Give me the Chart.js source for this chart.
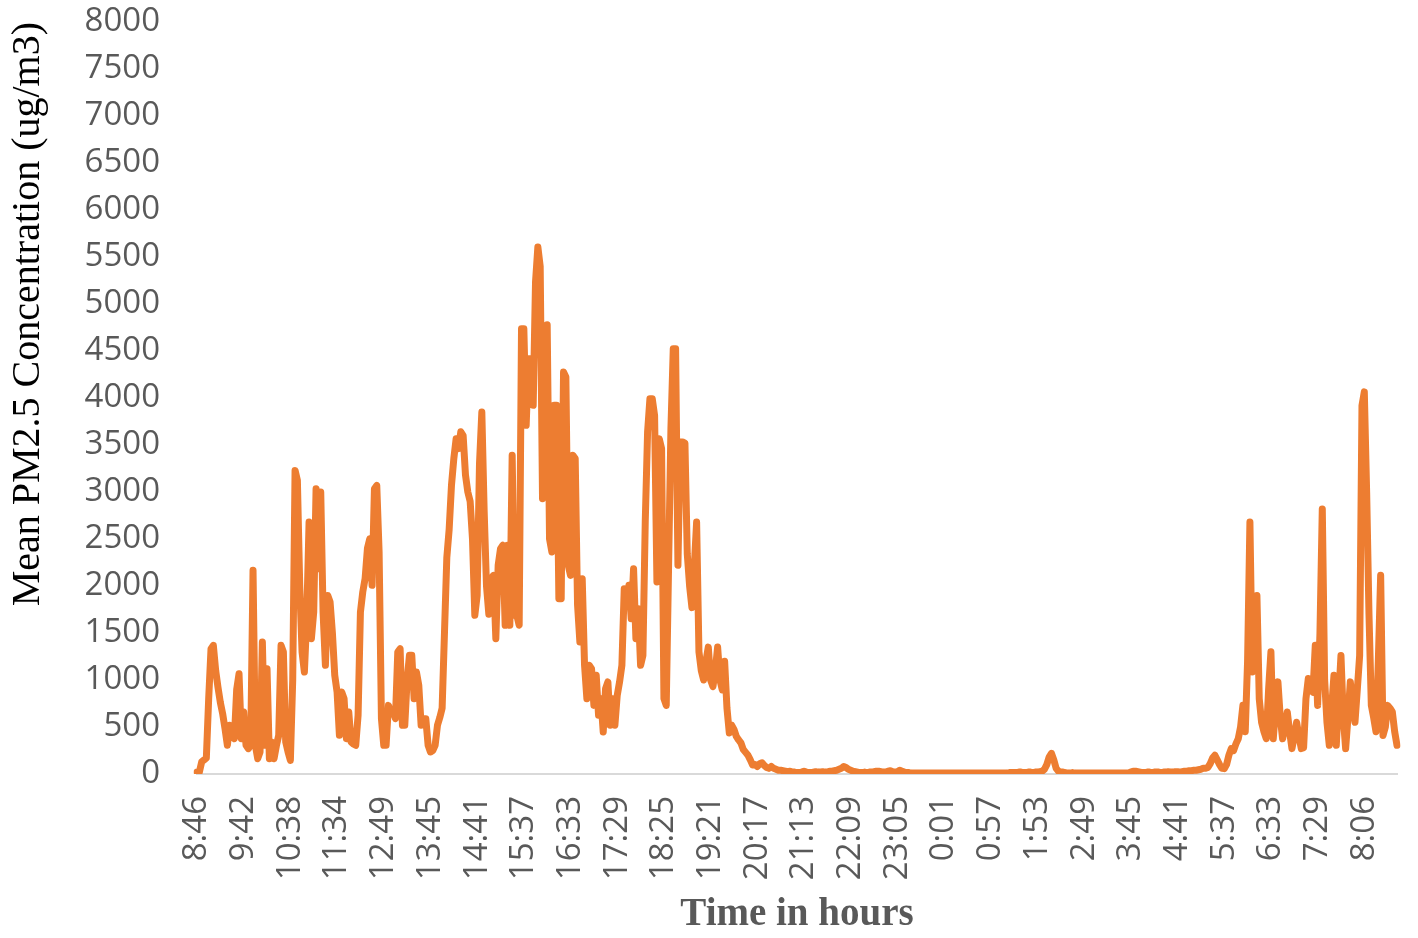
<!DOCTYPE html>
<html>
<head>
<meta charset="utf-8">
<title>Mean PM2.5 Concentration</title>
<script src="https://cdn.jsdelivr.net/npm/chart.js@4.4.1/dist/chart.umd.min.js"></script>
<style>
  html, body { margin: 0; padding: 0; background: #ffffff; }
  #wrap { width: 1418px; height: 938px; }
</style>
</head>
<body>
<div id="wrap"><canvas id="pm25" width="1418" height="938"></canvas></div>
<script>
// tick labels on the time axis, one every 20 samples
var tickLabels = ["8:46", "9:42", "10:38", "11:34", "12:49", "13:45", "14:41", "15:37", "16:33",
  "17:29", "18:25", "19:21", "20:17", "21:13", "22:09", "23:05", "0:01", "0:57", "1:53",
  "2:49", "3:45", "4:41", "5:37", "6:33", "7:29", "8:06"];
var samplesPerTick = 20;

// mean PM2.5 (ug/m3), 20 values per tick interval
var pm25 = [
  20, 20, 128, 150, 170, 800, 1330, 1369, 1100, 920, 760, 640, 482, 305, 518, 400, 376, 900, 1067, 376,             // 8:46
  660, 305, 270, 305, 2167, 305, 163, 234, 1404, 305, 1120, 163, 340, 163, 300, 411, 1369, 1298, 340, 234,          // 9:42
  145, 1000, 3230, 3124, 2007, 1298, 1085, 1652, 2681, 1440, 1723, 3035, 2184, 3000, 1723, 1156, 1900, 1830, 1500, 1050, // 10:38
  872, 411, 872, 801, 376, 660, 340, 320, 305, 624, 1723, 1936, 2078, 2400, 2503, 2007, 3035, 3070, 2362, 589,     // 11:34
  305, 305, 730, 660, 660, 589, 1298, 1333, 518, 518, 1000, 1262, 1262, 801, 1085, 943, 518, 589, 589, 305,        // 12:49
  234, 250, 305, 518, 600, 700, 1500, 2300, 2600, 3071, 3354, 3567, 3461, 3640, 3600, 3180, 3000, 2900, 2500, 1688, // 13:45
  1900, 3300, 3850, 2800, 2000, 1700, 2078, 2113, 1440, 2220, 2397, 2433, 1582, 2433, 1582, 3390, 1688, 1688, 1582, 4738, // 14:41
  4738, 3709, 4418, 4418, 3922, 5234, 5606, 5400, 2929, 3800, 4780, 2500, 2362, 3922, 3922, 1865, 1865, 4276, 4223, 2220, // 15:37
  2113, 3390, 3355, 1800, 1404, 2078, 1156, 801, 1156, 1120, 730, 1050, 624, 801, 447, 908, 979, 518, 801, 518,    // 16:33
  837, 979, 1156, 1972, 1800, 2007, 1652, 2184, 1440, 1759, 1156, 1262, 2681, 3638, 3993, 3993, 3815, 2042, 3567, 3461, // 17:29
  801, 730, 2220, 3674, 4525, 4525, 2220, 3532, 3532, 3520, 2340, 2000, 1770, 2200, 2680, 1300, 1100, 1000, 1200, 1350, // 18:25
  1000, 930, 1100, 1350, 1000, 895, 1200, 700, 437, 520, 475, 400, 362, 330, 260, 230, 200, 150, 95, 100,          // 19:21
  80, 110, 120, 90, 70, 60, 80, 60, 50, 40, 40, 35, 30, 25, 30, 20, 20, 15, 15, 20,                                // 20:17
  30, 20, 15, 15, 20, 25, 20, 20, 25, 20, 20, 30, 30, 35, 40, 50, 60, 80, 70, 50,                                  // 21:13
  40, 30, 25, 20, 15, 15, 20, 15, 20, 20, 25, 30, 30, 25, 20, 20, 30, 35, 25, 20,                                  // 22:09
  25, 40, 30, 20, 15, 15, 10, 10, 10, 10, 10, 10, 10, 10, 10, 10, 10, 10, 10, 10,                                  // 23:05
  10, 10, 10, 10, 10, 10, 10, 10, 10, 10, 10, 10, 10, 10, 10, 10, 10, 10, 10, 10,                                  // 0:01
  10, 10, 10, 10, 10, 10, 10, 10, 15, 15, 15, 15, 20, 20, 15, 15, 20, 20, 15, 20,                                  // 0:57
  20, 25, 30, 50, 100, 180, 220, 150, 60, 30, 20, 20, 15, 10, 10, 15, 10, 10, 10, 10,                              // 1:53
  10, 10, 10, 10, 10, 10, 10, 10, 10, 10, 10, 10, 10, 10, 10, 10, 10, 10, 10, 10,                                  // 2:49
  20, 30, 30, 25, 20, 15, 15, 20, 20, 15, 20, 20, 20, 15, 20, 20, 25, 20, 20, 25,                                  // 3:45
  25, 20, 25, 30, 30, 35, 35, 40, 40, 45, 50, 60, 60, 70, 110, 170, 200, 150, 100, 60,                             // 4:41
  57, 100, 200, 270, 250, 320, 375, 500, 730, 450, 1200, 2680, 1085, 1400, 1900, 800, 550, 450, 375, 900,          // 5:37
  1300, 375, 700, 980, 600, 375, 500, 660, 450, 270, 400, 550, 400, 270, 280, 800, 1015, 900, 870, 1370,           // 6:33
  730, 1500, 2820, 1000, 550, 305, 700, 1050, 305, 800, 1260, 600, 270, 600, 980, 750, 550, 900, 1260, 3920,       // 7:29
  4065, 3000, 1700, 730, 600, 450, 1200, 2115, 410, 500, 730, 700, 660, 450, 305                                   // 8:06
];

var yTitle = "Mean PM2.5 Concentration (ug/m3)";
var xTitle = "Time in hours";

var labels = [];
for (var i = 0; i < pm25.length; i++) {
  labels.push(i % samplesPerTick === 0 ? tickLabels[i / samplesPerTick] : "");
}

var tickFont = { family: "'Open Sans', 'Liberation Sans', sans-serif", size: 33 };

new Chart(document.getElementById("pm25"), {
  type: "line",
  data: {
    labels: labels,
    datasets: [{
      data: pm25,
      borderColor: "#ED7D31",
      borderWidth: 7,
      pointRadius: 0,
      tension: 0,
      borderJoinStyle: "round",
      borderCapStyle: "round",
      fill: false
    }]
  },
  options: {
    responsive: false,
    animation: false,
    layout: { padding: { top: 22, right: 21, left: 0, bottom: 0 } },
    plugins: {
      legend: { display: false },
      tooltip: { enabled: false }
    },
    scales: {
      x: {
        type: "category",
        grid: { display: false, drawTicks: false },
        border: { display: true, color: "#D9D9D9", width: 2 },
        ticks: {
          autoSkip: false,
          maxRotation: 90,
          minRotation: 90,
          padding: 22,
          color: "#595959",
          font: tickFont
        },
        title: {
          display: true,
          text: xTitle,
          color: "#595959",
          font: { family: "'Liberation Serif', 'Times New Roman', serif", size: 39, weight: "bold" },
          padding: { top: 0, bottom: 0 }
        },
        afterFit: function (scale) {
          scale.height = 164;
          scale.paddingLeft = 0;
          scale.paddingRight = 0;
        }
      },
      y: {
        min: 0,
        max: 8000,
        grid: { display: false, drawTicks: false },
        border: { display: false },
        ticks: {
          stepSize: 500,
          padding: 37,
          color: "#595959",
          font: tickFont,
          callback: function (v) { return String(v); }
        },
        title: {
          display: true,
          text: yTitle,
          align: "end",
          color: "#000000",
          font: { family: "'Liberation Serif', 'Times New Roman', serif", size: 40 },
          padding: { top: 4, bottom: 0 }
        },
        afterFit: function (scale) {
          scale.width = 197;
          scale.paddingTop = 0;
          scale.paddingBottom = 0;
        }
      }
    }
  }
});
</script>
</body>
</html>
